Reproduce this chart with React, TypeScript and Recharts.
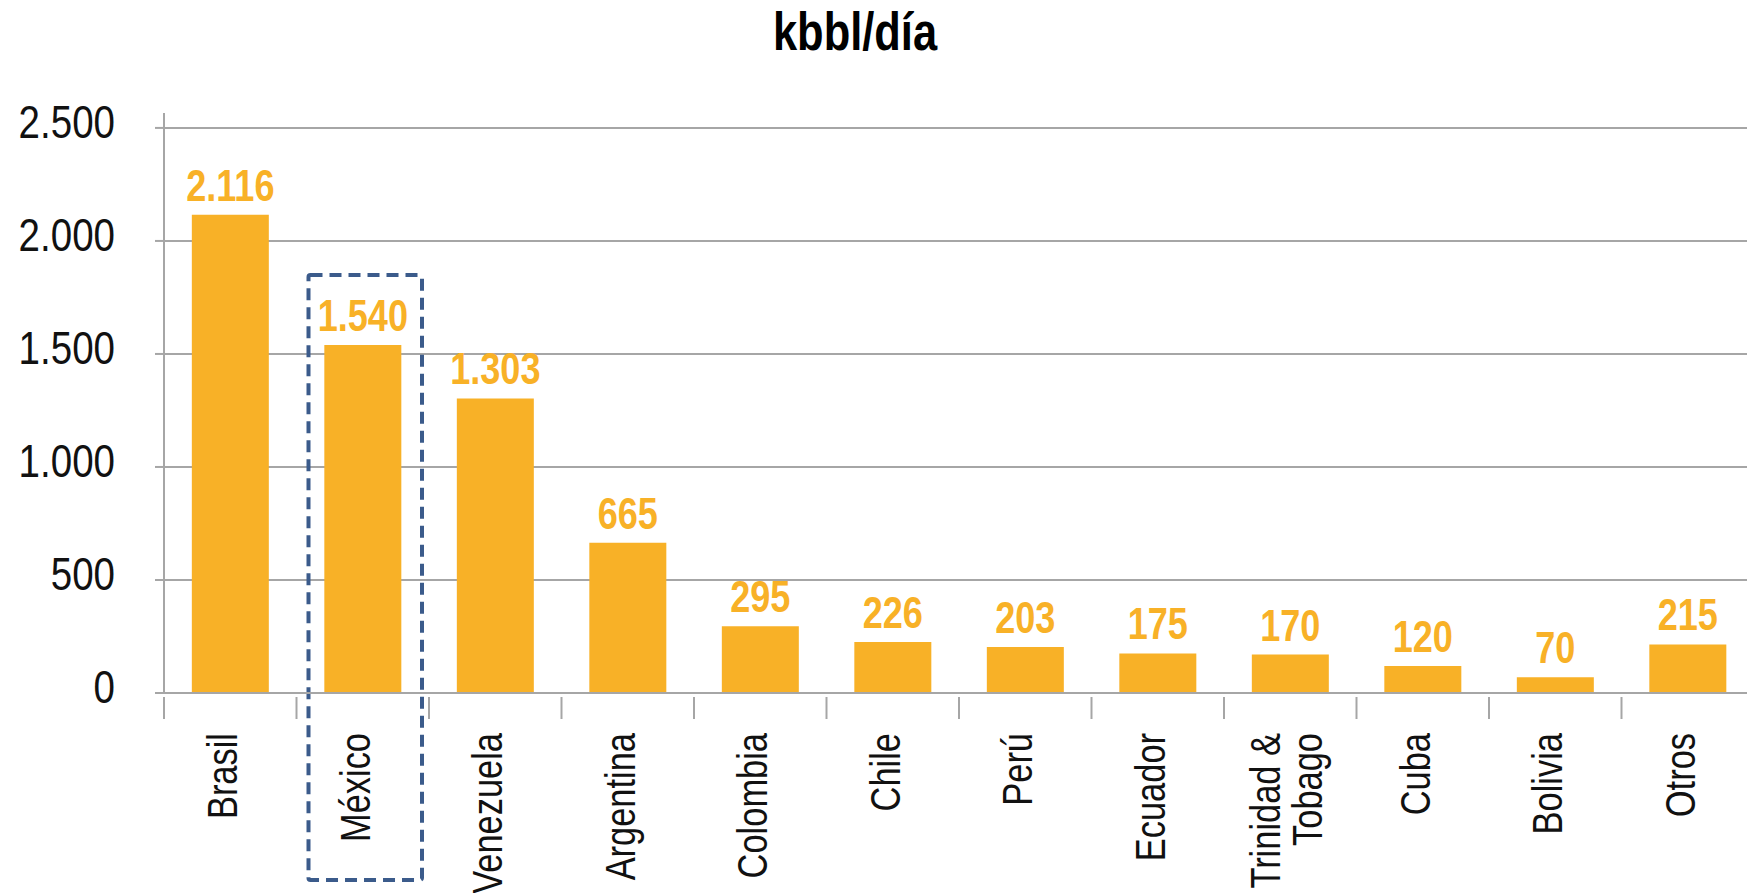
import { BarChart, Bar, XAxis, YAxis, CartesianGrid, LabelList, ReferenceArea } from 'recharts';

// producción por país, kbbl/día
const countries = [
  'Brasil',
  'México',
  'Venezuela',
  'Argentina',
  'Colombia',
  'Chile',
  'Perú',
  'Ecuador',
  'Trinidad &\nTobago',
  'Cuba',
  'Bolivia',
  'Otros',
];
const production = [2116, 1540, 1303, 665, 295, 226, 203, 175, 170, 120, 70, 215];
const yTicks = [0, 500, 1000, 1500, 2000, 2500];
const highlighted = 'México';
const title = 'kbbl/día';

const data = countries.map((name, i) => ({ name, value: production[i] }));

// no Arial Narrow here, so squeeze Liberation Sans (Arial metrics) horizontally
const FONT = '"Liberation Sans", Arial, sans-serif';
const NARROW = 0.82;
const ORANGE = '#F8B127';
const GRID = '#A6A6A6';
const BOX = '#3B5B8B';

// domain top is a bit above the last tick so the axis line sticks out
const Y_MAX = 2566;
// vertical extent of the dashed highlight box, in data units
const BOX_TOP = 1849;
const BOX_BOTTOM = -827;

const fmt = (v: number) => String(v).replace(/\B(?=(\d{3})+(?!\d))/g, '.');

function YTick(props: any) {
  const { x, y, payload } = props;
  return (
    <text
      transform={`translate(${x},${y + 10}) scale(${NARROW},1)`}
      textAnchor="end"
      fontSize={47}
      fontFamily={FONT}
      fill="#111"
    >
      {fmt(payload.value)}
    </text>
  );
}

function CountryTick(props: any) {
  const { x, y, payload, width, visibleTicksCount } = props;
  const band = width && visibleTicksCount ? width / visibleTicksCount : 132.5;
  const left = x - band / 2;
  const lines = String(payload.value).split('\n');
  return (
    <g>
      <line x1={left} y1={y + 4} x2={left} y2={y + 26} stroke={GRID} strokeWidth={2} />
      <g transform={`translate(${x},${y + 40}) rotate(-90) scale(${NARROW},1)`}>
        {lines.map((line, i) => (
          <text
            key={i}
            x={0}
            y={7 - (lines.length - 1) * 17 + i * 42}
            textAnchor="end"
            fontSize={42}
            fontFamily={FONT}
            fill="#111"
          >
            {line}
          </text>
        ))}
      </g>
    </g>
  );
}

function ValueLabel(props: any) {
  const { x, y, width, value } = props;
  return (
    <text
      transform={`translate(${x + width / 2},${y - 14}) scale(${NARROW},1)`}
      textAnchor="middle"
      fontSize={44}
      fontWeight="bold"
      fontFamily={FONT}
      fill={ORANGE}
    >
      {fmt(Number(value))}
    </text>
  );
}

function HighlightBox(props: any) {
  const { x, y, width, height } = props;
  return (
    <rect
      x={x + 12}
      y={y}
      width={width - 19}
      height={height}
      fill="none"
      stroke={BOX}
      strokeWidth={4}
      strokeDasharray="12 7"
      strokeLinejoin="round"
      rx={2}
    />
  );
}

export default function App() {
  return (
    <div
      style={{
        position: 'fixed',
        left: 0,
        top: 0,
        width: 1747,
        height: 893,
        overflow: 'hidden',
        background: '#fff',
      }}
    >
      <svg width={1747} height={80} style={{ position: 'absolute', left: 0, top: 0 }}>
        <text
          transform={`translate(855,50) scale(${NARROW},1)`}
          textAnchor="middle"
          fontSize={53}
          fontWeight="bold"
          fontFamily={FONT}
          fill="#000"
        >
          {title}
        </text>
      </svg>
      <BarChart
        width={1760}
        height={893}
        data={data}
        margin={{ top: 113, right: 6, bottom: 0, left: 0 }}
        barCategoryGap="21%"
      >
        <CartesianGrid vertical={false} horizontalValues={yTicks} stroke={GRID} strokeWidth={2} />
        <XAxis
          dataKey="name"
          height={200}
          interval={0}
          tickLine={false}
          tickSize={0}
          tickMargin={0}
          axisLine={{ stroke: GRID, strokeWidth: 2 }}
          tick={<CountryTick />}
        />
        <YAxis
          width={164}
          domain={[0, Y_MAX]}
          ticks={yTicks}
          interval={0}
          tickSize={9}
          tickMargin={40}
          tickLine={{ stroke: GRID, strokeWidth: 2 }}
          axisLine={{ stroke: GRID, strokeWidth: 2 }}
          tick={<YTick />}
        />
        <Bar dataKey="value" fill={ORANGE} isAnimationActive={false}>
          <LabelList dataKey="value" content={<ValueLabel />} />
        </Bar>
        <ReferenceArea
          x1={highlighted}
          x2={highlighted}
          y1={BOX_BOTTOM}
          y2={BOX_TOP}
          ifOverflow="visible"
          shape={<HighlightBox />}
        />
      </BarChart>
    </div>
  );
}
